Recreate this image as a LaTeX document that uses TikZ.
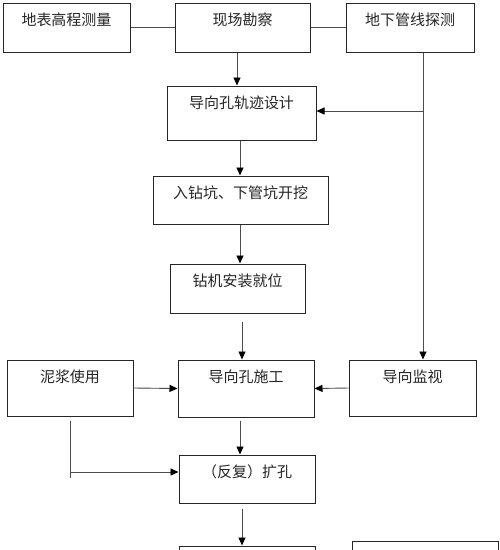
\documentclass[tikz,border=0pt]{standalone}
\usepackage{fontspec}
\newfontfamily\cjk{Noto Sans CJK SC}
\usetikzlibrary{arrows.meta,calc}
\tikzset{
  box/.style={draw=black!85, line width=1pt, inner sep=0pt, fill=white},
  boxtext/.style={label={[font=\cjk\fontsize{15}{17}\selectfont, text=black!85, anchor=center, yshift=-17pt]north:#1}},
  conn/.style={draw=black!70, line width=0.9pt},
  arr/.style={conn, -{Triangle[length=8pt,width=7pt,fill=black,color=black]}}
}
\begin{document}
\begin{tikzpicture}[x=1pt,y=-1pt]
\path[use as bounding box, fill=white] (0,0) rectangle (500,550);
\clip (0,0) rectangle (500,550);
% boxes
\node[box, minimum width=127pt, minimum height=49pt, boxtext={地表高程测量}] (A) at (66.5,27.5) {};
\node[box, minimum width=135pt, minimum height=49pt, boxtext={现场勘察}] (B) at (242.5,27.5) {};
\node[box, minimum width=128pt, minimum height=49pt, boxtext={地下管线探测}] (C) at (410,27.5) {};
\node[box, minimum width=149pt, minimum height=54pt, boxtext={导向孔轨迹设计}] (D) at (241.5,113) {};
\node[box, minimum width=175pt, minimum height=48pt, boxtext={入钻坑、下管坑开挖}] (E) at (240.5,200) {};
\node[box, minimum width=135pt, minimum height=49pt, boxtext={钻机安装就位}] (F) at (237.5,288.5) {};
\node[box, minimum width=136pt, minimum height=57pt, boxtext={导向孔施工}] (G) at (246,388.5) {};
\node[box, minimum width=126pt, minimum height=56pt, boxtext={泥浆使用}] (H) at (70,388) {};
\node[box, minimum width=127pt, minimum height=56pt, boxtext={导向监视}] (I) at (412.5,388) {};
\node[box, minimum width=136pt, minimum height=48pt, boxtext={（反复）扩孔}] (J) at (247,479) {};
\node[box, minimum width=136pt, minimum height=50pt] (K) at (247,571) {};
\node[box, minimum width=146pt, minimum height=50pt] (L) at (425,566) {};
% helper coordinates
\coordinate (xb) at (237,0);
\coordinate (xc) at (423,0);
\coordinate (xd) at (240,0);
\coordinate (xf) at (242,0);
\coordinate (jc) at (423,111);
\coordinate (kh) at (70,472);
\coordinate (kt) at (70,478);
% connectors
\draw[conn] (A.east) -- (B.west);
\draw[conn] (B.east) -- (C.west);
\draw[arr] (B.south -| xb) -- (D.north -| xb);
\draw[arr] (C.south -| xc) -- (I.north -| xc);
\draw[arr] (jc) -- (jc -| D.east);
\draw[arr] (D.south -| xd) -- (E.north -| xd);
\draw[arr] (E.south -| xd) -- (F.north -| xd);
\draw[arr, shorten <=8pt] (F.south -| xf) -- (G.north -| xf);
\draw[arr] (H.east) -- (G.west);
\draw[arr] (I.west) -- (G.east);
\draw[arr, shorten <=3pt] (G.south -| xd) -- (J.north -| xd);
\draw[conn, shorten <=4pt] (H.south -| kh) -- (kt);
\draw[arr] (kh) -- (kh -| J.west);
\draw[arr, shorten <=5pt] (J.south -| xf) -- (K.north -| xf);
\end{tikzpicture}
\end{document}
